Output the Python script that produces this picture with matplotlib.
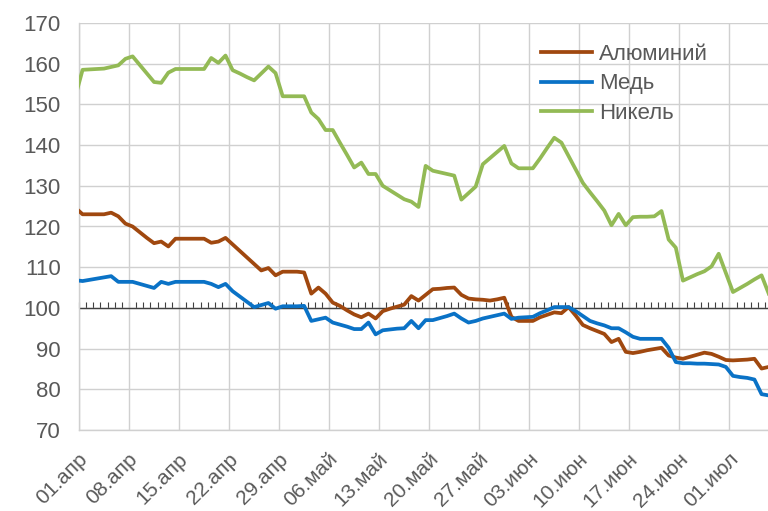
import numpy as np
import pandas as pd
import matplotlib
matplotlib.use("Agg")
import matplotlib.pyplot as plt
from matplotlib.transforms import ScaledTranslation

plt.rcParams['font.family'] = ['Liberation Sans', 'DejaVu Sans']

# Calendar days from 31 Mar 2019 to 6 Jul 2019 (values are plotted at mid-day)
dates = pd.date_range('2019-03-31', '2019-07-06', freq='D')

aluminium = [124.6,
    123.0, 123.0, 123.0, 123.0, 123.4, 122.5, 120.7,
    120.0, 118.6, 117.2, 115.9, 116.3, 115.1, 117.0,
    117.0, 117.0, 117.0, 117.0, 116.0, 116.3, 117.2,
    115.6, 114.0, 112.4, 110.8, 109.2, 109.8, 108.0,
    108.9, 108.9, 108.9, 108.7, 103.5, 105.0, 103.5,
    101.3, 100.5, 99.4, 98.4, 97.7, 98.6, 97.4,
    99.2, 99.8, 100.3, 100.8, 102.9, 101.8, 103.2,
    104.6, 104.7, 104.9, 105.0, 103.2, 102.3, 102.1,
    102.0, 101.8, 102.1, 102.5, 97.8, 96.8, 96.8,
    96.8, 97.7, 98.3, 98.9, 98.7, 100.2, 98.1,
    95.8, 95.0, 94.3, 93.6, 91.6, 92.4, 89.2,
    88.9, 89.2, 89.6, 89.9, 90.2, 88.3, 87.8,
    87.5, 88.0, 88.5, 89.0, 88.7, 88.0, 87.2,
    87.1, 87.2, 87.3, 87.5, 85.1, 85.5]

copper = [106.8,
    106.6, 106.9, 107.2, 107.5, 107.8, 106.4, 106.4,
    106.4, 105.9, 105.4, 104.9, 106.4, 105.9, 106.4,
    106.4, 106.4, 106.4, 106.4, 105.9, 105.1, 105.9,
    104.1, 102.8, 101.5, 100.2, 100.7, 101.2, 99.8,
    100.4, 100.4, 100.4, 100.5, 96.8, 97.2, 97.6,
    96.4, 95.9, 95.4, 94.8, 94.8, 96.4, 93.5,
    94.5, 94.7, 94.9, 95.0, 96.8, 95.0, 97.0,
    97.0, 97.5, 98.0, 98.6, 97.4, 96.4, 96.8,
    97.4, 97.8, 98.2, 98.6, 97.3, 97.6, 97.7,
    97.8, 98.7, 99.4, 100.2, 100.2, 100.2, 99.2,
    98.0, 96.8, 96.2, 95.7, 95.0, 95.0, 94.0,
    92.9, 92.4, 92.4, 92.4, 92.4, 90.2, 86.7,
    86.4, 86.4, 86.3, 86.3, 86.2, 86.1, 85.5,
    83.3, 83.0, 82.8, 82.4, 78.8, 78.5]

nickel = [152.0,
    158.5, 158.6, 158.7, 158.8, 159.2, 159.6, 161.2,
    161.8, 159.7, 157.6, 155.5, 155.3, 157.8, 158.7,
    158.7, 158.7, 158.7, 158.7, 161.4, 160.2, 162.0,
    158.4, 157.6, 156.7, 155.9, 157.6, 159.3, 157.7,
    152.0, 152.0, 152.0, 152.0, 148.0, 146.4, 143.7,
    143.7, 140.6, 137.6, 134.5, 135.7, 132.9, 132.9,
    130.0, 128.9, 127.8, 126.7, 126.1, 124.8, 134.9,
    133.7, 133.3, 132.9, 132.5, 126.6, 128.2, 129.8,
    135.3, 136.8, 138.3, 139.8, 135.5, 134.3, 134.3,
    134.3, 136.7, 139.3, 141.8, 140.6, 137.3, 134.0,
    130.7, 128.4, 126.2, 123.9, 120.3, 123.1, 120.3,
    122.3, 122.4, 122.4, 122.5, 123.8, 116.8, 114.8,
    106.7, 107.5, 108.3, 109.0, 110.2, 113.3, 108.6,
    103.9, 104.9, 105.9, 107.0, 108.0, 103.5]

series_names = ['Алюминий', 'Медь', 'Никель']
series_colors = ['#A0480F', '#0A72C6', '#93BA55']

tick_labels = ['01.апр', '08.апр', '15.апр', '22.апр', '29.апр', '06.май', '13.май',
               '20.май', '27.май', '03.июн', '10.июн', '17.июн', '24.июн', '01.июл']

start = pd.Timestamp('2019-04-01')
x = (dates - start).days.values + 0.5

W, H = 768, 511
fig = plt.figure(figsize=(W / 100, H / 100), dpi=100)
ax = fig.add_axes([79 / W, 1 - 430 / H, (768 - 79) / W, (430 - 23) / H])

for vals, name, col in zip([aluminium, copper, nickel], series_names, series_colors):
    ax.plot(x, vals, color=col, lw=2.7, label=name, solid_joinstyle='round', zorder=3)

ax.set_xlim(0, 96.4)
ax.set_ylim(70, 170)
ax.set_yticks(np.arange(70, 171, 10))
ax.set_xticks(np.arange(0, 7 * len(tick_labels), 7))
ax.set_xticklabels(tick_labels, rotation=45, ha='right', va='top', rotation_mode='anchor')

grid_c = '#D0D0D0'
ax.grid(True, color=grid_c, lw=1.0, zorder=0)
for s in ['top', 'right']:
    ax.spines[s].set_visible(False)
for s in ['left', 'bottom']:
    ax.spines[s].set_color(grid_c)
    ax.spines[s].set_linewidth(1.0)

ax.tick_params(axis='both', length=0, colors='#595959')
ax.tick_params(axis='y', pad=13, labelsize=16)
ax.tick_params(axis='x', pad=14, labelsize=15)
for lab in ax.get_xticklabels():
    lab.set_transform(lab.get_transform() + ScaledTranslation(-1 / 100, 0, fig.dpi_scale_trans))

# axis line at 100 with daily tick marks
ax.axhline(100, color='#404040', lw=1.0, zorder=2)
sec = ax.secondary_xaxis(0.3)
sec.set_xticks(np.arange(0, 97, 1))
sec.tick_params(axis='x', direction='in', length=4, width=0.8, color='#404040',
                labelbottom=False, labeltop=False)
for s in sec.spines.values():
    s.set_visible(False)

leg = fig.legend(loc='upper left', bbox_to_anchor=(541 / W, 1 - 44 / H), frameon=False,
                 fontsize=16, handlelength=2.3, handletextpad=0.3, labelspacing=0.38,
                 borderpad=0, borderaxespad=0)
for t in leg.get_texts():
    t.set_color('#595959')

fig.savefig('out.png', dpi=100)
